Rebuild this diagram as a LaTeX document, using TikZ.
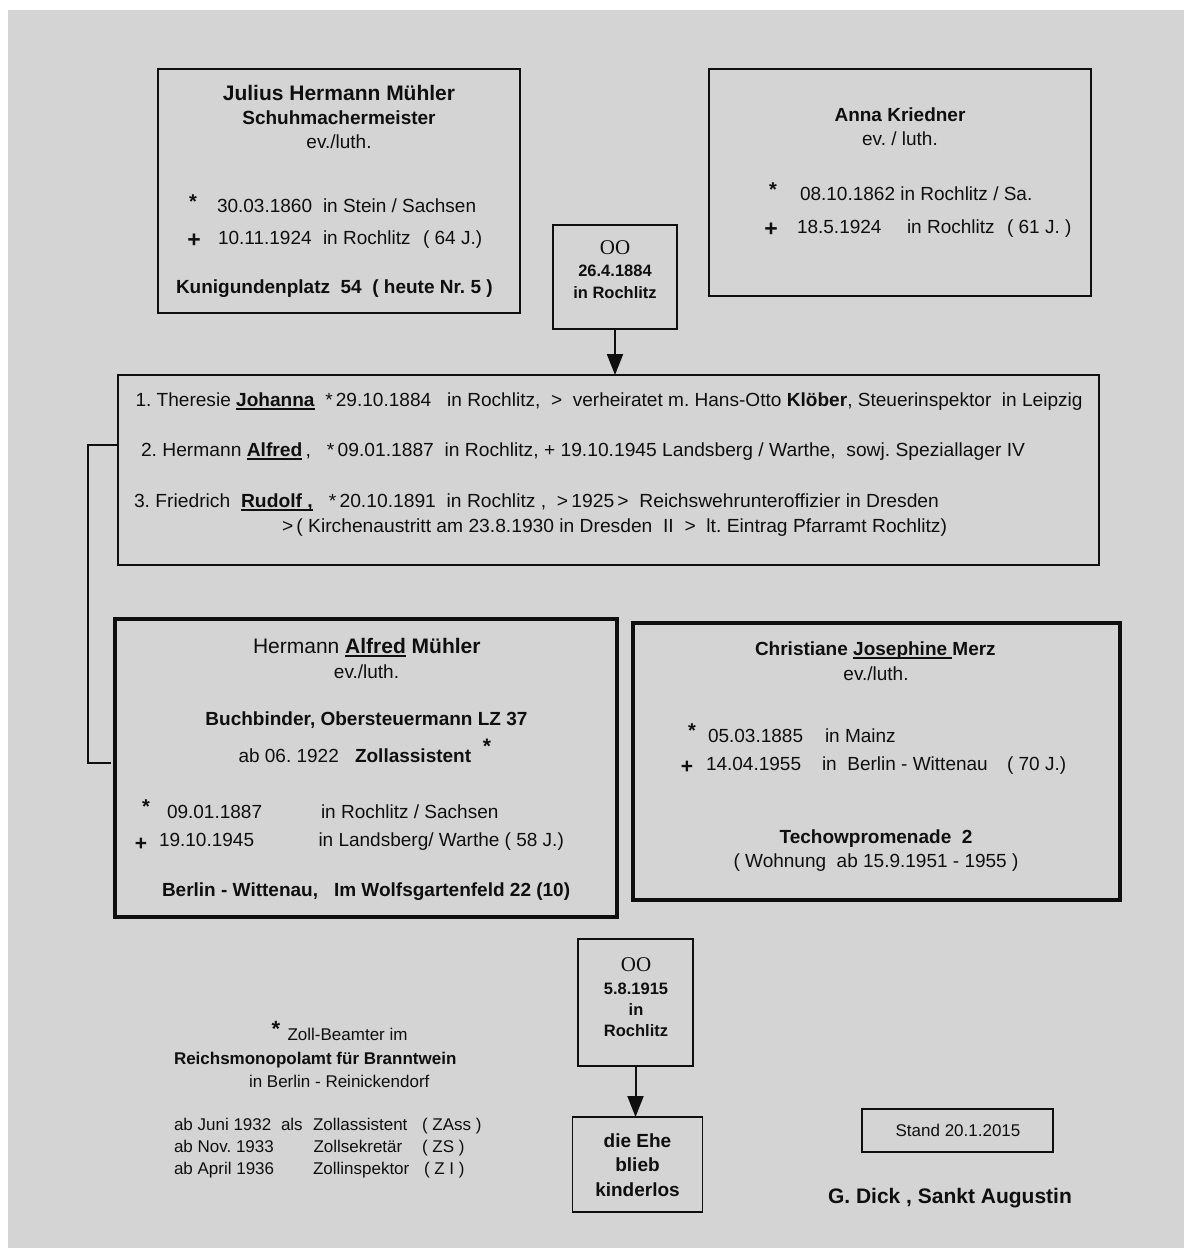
\documentclass[tikz,border=0pt]{standalone}
\usepackage{fontspec}
\usepackage{graphicx}
\setmainfont{Liberation Sans}
\newfontfamily\oofont{Liberation Serif}
\usetikzlibrary{arrows.meta}
\frenchspacing
\newcommand\fsz[1]{\fontsize{#1}{#1}\selectfont}
\newcommand\fitw[2]{\resizebox{#1pt}{\height}{#2}}
\newcommand\uln[1]{\setbox0\hbox{#1}\rlap{\rule[-3.6pt]{\wd0}{1.8pt}}\box0\relax}
\definecolor{bgc}{RGB}{212,212,212}
\definecolor{ink}{RGB}{15,15,15}
\tikzset{
  t/.style={inner sep=0pt, outer sep=0pt, anchor=base west, text=ink, font=\fsz{19}},
  tc/.style={t, anchor=base},
  thinbox/.style={draw=ink, line width=1.6pt, inner sep=0pt, outer sep=0pt, anchor=north west},
  thickbox/.style={draw=ink, line width=4pt, inner sep=0pt, outer sep=0pt, anchor=north west},
  conn/.style={draw=ink, line width=2pt},
  arr/.style={draw=ink, line width=2pt, -{Triangle[width=16pt,length=21pt]}},
}
\begin{document}
\begin{tikzpicture}[x=1pt,y=-1pt]
\useasboundingbox (0,0) rectangle (1184,1248);
\fill[white] (0,0) rectangle (1184,1248);
\fill[bgc] (8,10) rectangle (1184,1248);

% ---------- Julius ----------
\node[thinbox, minimum width=362pt, minimum height=244pt] (julius) at (158,69) {};
\node[tc, font=\fsz{21}\bfseries] (j1) at (339,100) {Julius Hermann Mühler};
\node[tc, font=\fsz{19}\bfseries] (j2) at (339,124) {Schuhmachermeister};
\node[tc] (j3) at (339,148) {ev./luth.};
\node[tc, font=\fsz{20}\bfseries] (j4s) at (193,208) {*};
\node[t] (j4a) at (217,212) {30.03.1860};
\node[t] (j4b) at (323,212) {in Stein / Sachsen};
\node[tc, font=\fsz{23}\bfseries] (j5s) at (194,247) {+};
\node[t] (j5a) at (218,244) {10.11.1924};
\node[t] (j5b) at (323,244) {in Rochlitz};
\node[t] (j5c) at (423,244) {( 64 J.)};
\node[t, font=\fsz{19}\bfseries] (j6) at (176,293) {Kunigundenplatz\ \ 54\ \ ( heute Nr. 5 )};

% ---------- Anna ----------
\node[thinbox, minimum width=382pt, minimum height=227pt] (anna) at (709,69) {};
\node[tc, font=\fsz{19}\bfseries] (a1) at (900,121) {Anna Kriedner};
\node[tc] (a2) at (900,145) {ev. / luth.};
\node[tc, font=\fsz{20}\bfseries] (a3s) at (773,196) {*};
\node[t] (a3a) at (800,200) {08.10.1862 in Rochlitz / Sa.};
\node[tc, font=\fsz{23}\bfseries] (a4s) at (771,236) {+};
\node[t] (a4a) at (797,233) {18.5.1924};
\node[t] (a4b) at (907,233) {in Rochlitz};
\node[t] (a4c) at (1007,233) {( 61 J. )};

% ---------- marriage 1 ----------
\node[thinbox, minimum width=124pt, minimum height=104pt] (m1) at (553,225) {};
\node[tc, font=\fsz{21}\oofont] (m1a) at (615,254) {OO};
\node[tc, font=\fsz{16.5}\bfseries] (m1b) at (615,276) {26.4.1884};
\node[tc, font=\fsz{16.5}\bfseries] (m1c) at (615,298) {in Rochlitz};

% ---------- children ----------
\node[thinbox, minimum width=981pt, minimum height=190pt] (kids) at (118,375) {};
\draw[arr] (m1.south) -- (m1.south |- kids.north);
\node[t] (k1) at (135.5,406) {\fitw{947}{1. Theresie \uln{\textbf{Johanna}}\ \ *\,29.10.1884\ \ \ in Rochlitz,\ \ >\ \ verheiratet m. Hans-Otto \textbf{Klöber}, Steuerinspektor\ \ in Leipzig}};
\node[t] (k2) at (141,456) {\fitw{884}{2. Hermann \uln{\textbf{Alfred}}\,,\ \ \ *\,09.01.1887\ \ in Rochlitz, + 19.10.1945 Landsberg / Warthe,\ \ sowj. Speziallager IV}};
\node[t] (k3) at (134,507) {\fitw{805}{3. Friedrich\ \ \uln{\textbf{Rudolf ,}}\ \ \ *\,20.10.1891\ \ in Rochlitz ,\ \ >\,1925\,>\ \ Reichswehrunteroffizier in Dresden}};
\node[t] (k4) at (282,532) {\fitw{665}{>\,( Kirchenaustritt am 23.8.1930 in Dresden\ \ II\ \ >\ \ lt. Eintrag Pfarramt Rochlitz)}};

% ---------- Alfred ----------
\node[thickbox, minimum width=502pt, minimum height=298pt] (alfred) at (115,619) {};
\draw[conn] ([yshift=25pt]kids.west) -- ++(-30,0) |- ([xshift=-4pt,yshift=5pt]alfred.west);
\node[t, font=\fsz{21}] (f1) at (253,653) {Hermann \uln{\textbf{Alfred}} \textbf{Mühler}};
\node[tc] (f2) at (366.5,678) {ev./luth.};
\node[tc, font=\fsz{19}\bfseries] (f3) at (366.5,725) {Buchbinder, Obersteuermann LZ 37};
\node[t] (f4a) at (238.5,762) {ab 06. 1922};
\node[t, font=\fsz{19}\bfseries] (f4b) at (355,762) {Zollassistent};
\node[tc, font=\fsz{21}\bfseries] (f4s) at (487,753) {*};
\node[tc, font=\fsz{20}\bfseries] (f5s) at (146,813) {*};
\node[t] (f5a) at (167,818) {09.01.1887};
\node[t] (f5b) at (321,818) {in Rochlitz / Sachsen};
\node[tc, font=\fsz{21}\bfseries] (f6s) at (141,850) {+};
\node[t] (f6a) at (159,846) {19.10.1945};
\node[t] (f6b) at (318.5,846) {in Landsberg/ Warthe ( 58 J.)};
\node[t, font=\fsz{19}\bfseries] (f7a) at (162,896) {Berlin - Wittenau,};
\node[t, font=\fsz{19}\bfseries] (f7b) at (334,896) {Im Wolfsgartenfeld 22 (10)};

% ---------- Josephine ----------
\node[thickbox, minimum width=487pt, minimum height=277pt] (jose) at (633,623) {};
\node[t, font=\fsz{19}\bfseries] (p1) at (755,655) {Christiane \uln{Josephine\ }Merz};
\node[tc] (p2) at (876,680) {ev./luth.};
\node[tc, font=\fsz{20}\bfseries] (p3s) at (692,737) {*};
\node[t] (p3a) at (708,742) {05.03.1885};
\node[t] (p3b) at (825,742) {in Mainz};
\node[tc, font=\fsz{21}\bfseries] (p4s) at (687,773) {+};
\node[t] (p4a) at (706,770) {14.04.1955};
\node[t] (p4b) at (822,770) {in\ \ Berlin - Wittenau};
\node[t] (p4c) at (1007,770) {( 70 J.)};
\node[tc, font=\fsz{19}\bfseries] (p5) at (876,843) {Techowpromenade\ \ 2};
\node[tc] (p6) at (876,867) {( Wohnung\ \ ab 15.9.1951 - 1955 )};

% ---------- marriage 2 ----------
\node[thinbox, minimum width=115pt, minimum height=127pt] (m2) at (578,939) {};
\node[tc, font=\fsz{21}\oofont] (m2a) at (636,971) {OO};
\node[tc, font=\fsz{16.5}\bfseries] (m2b) at (636,994) {5.8.1915};
\node[tc, font=\fsz{16.5}\bfseries] (m2c) at (636,1015) {in};
\node[tc, font=\fsz{16.5}\bfseries] (m2d) at (636,1036) {Rochlitz};
\node[thinbox, minimum width=130pt, minimum height=95pt] (kl) at (572.5,1117) {};
\draw[arr] (m2.south) -- (m2.south |- kl.north);
\node[tc, font=\fsz{19}\bfseries] (kl1) at (637.5,1147) {die Ehe};
\node[tc, font=\fsz{19}\bfseries] (kl2) at (637.5,1171) {blieb};
\node[tc, font=\fsz{19}\bfseries] (kl3) at (637.5,1196) {kinderlos};

% ---------- footnote ----------
\node[tc, font=\fsz{22}\bfseries] (n0) at (276,1036) {*};
\node[t, font=\fsz{17}] (n1) at (287.6,1040) {Zoll-Beamter im};
\node[t, font=\fsz{17}\bfseries] (n2) at (174,1064) {Reichsmonopolamt für Branntwein};
\node[t, font=\fsz{17}] (n3) at (249,1087) {in Berlin - Reinickendorf};
\node[t, font=\fsz{17}] (r1a) at (174,1130) {ab Juni 1932};
\node[t, font=\fsz{17}] (r1b) at (281,1130) {als};
\node[t, font=\fsz{17}] (r1c) at (313,1130) {Zollassistent};
\node[t, font=\fsz{17}] (r1d) at (422,1130) {( ZAss )};
\node[t, font=\fsz{17}] (r2a) at (174,1152) {ab Nov. 1933};
\node[t, font=\fsz{17}] (r2c) at (313.5,1152) {Zollsekretär};
\node[t, font=\fsz{17}] (r2d) at (422,1152) {( ZS )};
\node[t, font=\fsz{17}] (r3a) at (174,1174) {ab April 1936};
\node[t, font=\fsz{17}] (r3c) at (313,1174) {Zollinspektor};
\node[t, font=\fsz{17}] (r3d) at (424,1174) {( Z I )};

% ---------- Stand / author ----------
\node[thinbox, minimum width=191pt, minimum height=43pt] (stand) at (862,1109) {};
\node[tc, font=\fsz{17}] (st) at (958,1136) {Stand 20.1.2015};
\node[t, font=\fsz{21}\bfseries] (gd) at (828,1203) {G. Dick , Sankt Augustin};
\end{tikzpicture}
\end{document}
